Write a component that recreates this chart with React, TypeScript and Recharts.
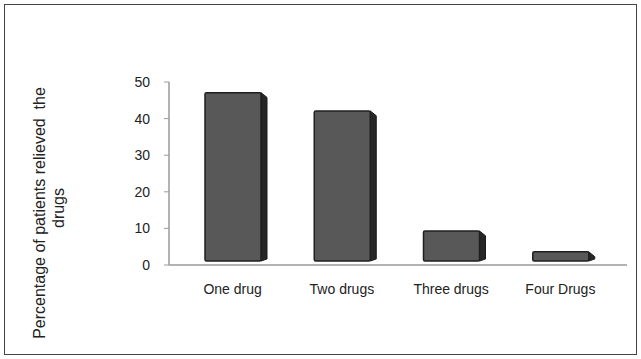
import React from "react";
import { BarChart, Bar, XAxis, YAxis } from "recharts";

const categories = ["One drug", "Two drugs", "Three drugs", "Four Drugs"];
const percentRelieved = [46, 41, 8.2, 2.5];
const yTicks = [0, 10, 20, 30, 40, 50];

const data = categories.map((name, i) => ({ name, value: percentRelieved[i] }));

const FONT = "'Liberation Sans', Arial, sans-serif";

// Excel-style 3D column: front face lifted a bit, dark side face on the right
const Column3D = (props: any) => {
  const { x, y, width, height } = props;
  if (height == null || height <= 0) return null;
  const lift = 4;
  const d = 6;
  const top = y - lift;
  const bottom = y + height - lift;
  const right = x + width;
  const side = `${right},${top} ${right + d},${top + d * 0.8} ${right + d},${bottom - 2} ${right},${bottom}`;
  return (
    <g>
      <polygon points={side} fill="#262626" stroke="#1a1a1a" strokeWidth={1} />
      <rect x={x} y={top} width={width} height={bottom - top} fill="#585858" stroke="#1f1f1f" strokeWidth={1.5} rx={1.5} />
    </g>
  );
};

const YLabel = () => (
  <g fontFamily={FONT} fontSize={16} fill="#222">
    <text x={39} y={213} transform="rotate(-90 39 213)" textAnchor="middle" dominantBaseline="central">
      Percentage of patients relieved&nbsp;&nbsp;the
    </text>
    <text x={58} y={208} transform="rotate(-90 58 208)" textAnchor="middle" dominantBaseline="central">
      drugs
    </text>
  </g>
);

export default function App() {
  return (
    <div style={{ position: "absolute", left: 0, top: 0, width: 641, height: 359, background: "#fff" }}>
      <div
        style={{
          position: "absolute",
          left: 4,
          top: 4,
          width: 633,
          height: 351,
          border: "1px solid #444",
          boxSizing: "border-box",
        }}
      />
      <div style={{ position: "absolute", left: 0, top: 0 }}>
        <BarChart width={641} height={359} data={data} margin={{ top: 82, right: 14, bottom: 64, left: 109 }}>
          <XAxis
            dataKey="name"
            height={30}
            tickLine={false}
            axisLine={{ stroke: "#9a9a9a", strokeWidth: 1.5 }}
            tick={{ fill: "#222", fontSize: 14, fontFamily: FONT }}
            tickMargin={13}
            padding={{ left: 9, right: 12 }}
            interval={0}
          />
          <YAxis
            width={60}
            domain={[0, 50]}
            ticks={yTicks}
            interval={0}
            tickSize={5}
            tickMargin={14}
            axisLine={{ stroke: "#9a9a9a", strokeWidth: 1.5 }}
            tickLine={{ stroke: "#9a9a9a" }}
            tick={{ fill: "#222", fontSize: 14, fontFamily: FONT }}
            label={{ content: () => <YLabel /> }}
          />
          <Bar dataKey="value" barSize={56} shape={<Column3D />} isAnimationActive={false} />
        </BarChart>
      </div>
    </div>
  );
}
